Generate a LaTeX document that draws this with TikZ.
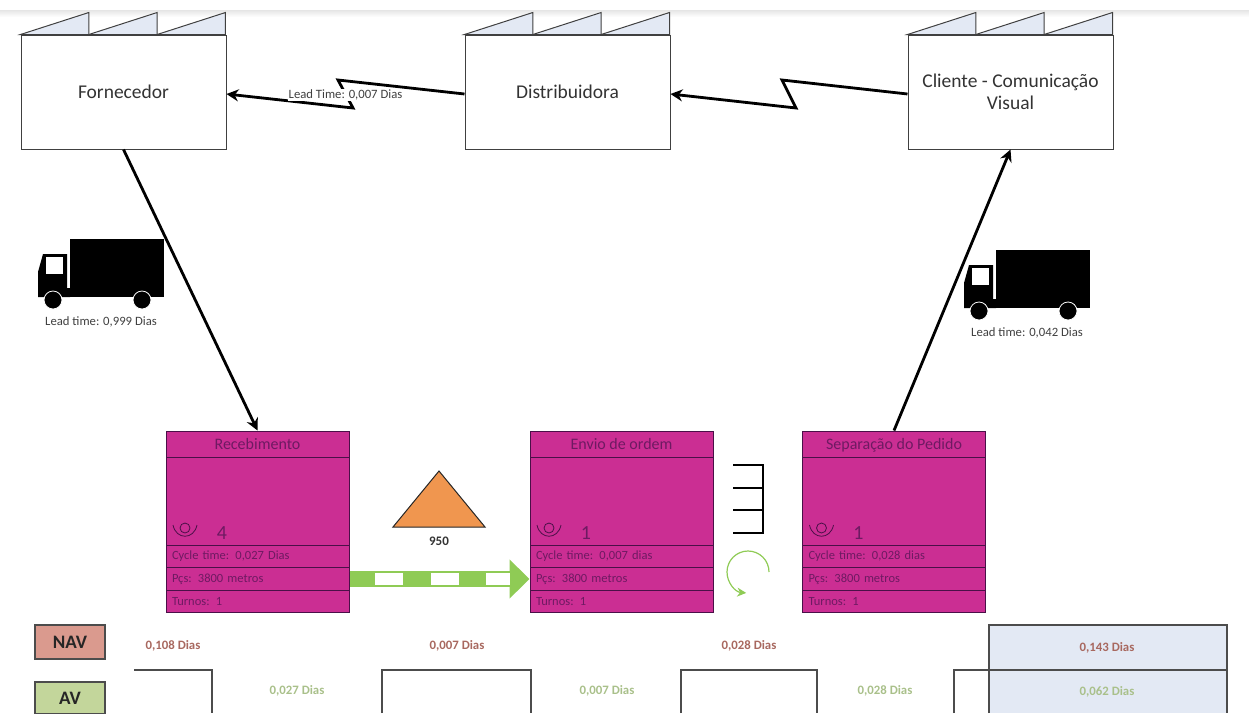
\documentclass[tikz,border=0pt]{standalone}
\usepackage{fontspec}
\setmainfont{Carlito}
\usetikzlibrary{arrows.meta, positioning, calc}

\definecolor{roofblue}{HTML}{E3E9F4}
\definecolor{processpink}{HTML}{CB2E93}
\definecolor{processline}{HTML}{4A1048}
\definecolor{processtext}{HTML}{6E1A62}
\definecolor{pushgreen}{HTML}{8FCB55}
\definecolor{navred}{HTML}{DA9A8E}
\definecolor{navtext}{HTML}{A8685F}
\definecolor{avgreen}{HTML}{C3D69B}
\definecolor{avtext}{HTML}{A9C08A}
\definecolor{stockorange}{HTML}{F0964F}

\tikzset{
    factorybox/.style={draw=black!75, line width=1pt, fill=white, minimum width=205pt, minimum height=114pt, align=center, font=\fontsize{19.5}{22}\selectfont, text=black!80},
    roof/.style={draw=black!75, line width=1pt, fill=roofblue},
    flowline/.style={line width=2.8pt, -{Stealth[length=12pt,width=12pt]}},
    leadlabel/.style={font=\fontsize{12.7}{15}\selectfont, text=black!75},
    titlebox/.style={draw=processline, line width=1pt, fill=processpink, minimum width=183pt, minimum height=26pt, inner sep=0pt, text=processtext, text height=12pt, text depth=2pt, font=\fontsize{16}{18}\selectfont},
    mainbox/.style={titlebox, minimum height=88pt},
    rowbox/.style={draw=processline, line width=1pt, fill=processpink, minimum height=22.5pt, inner ysep=0pt, inner xsep=6pt, text width=171pt, align=left, text=processtext, font=\fontsize{12.5}{14}\selectfont},
    daytext/.style={font=\bfseries\fontsize{12.8}{15}\selectfont},
    timebox/.style={draw=black!70, line width=1.2pt, fill=white},
    keybox/.style={draw=black!70, line width=1.2pt, minimum width=70pt, inner sep=0pt, font=\bfseries\fontsize{19}{22}\selectfont, text=black!85}
}

% factory roof over a named box
\newcommand{\factoryroof}[1]{
    \foreach \i in {0,1,2} {
        \draw[roof] ($(#1.north west)+({\i*68.33},0)$) -- ++(68.33,-22) -- ++(0,22) -- cycle;
    }
}

% truck, shifted from the left one
\newcommand{\truck}[2]{
    \begin{scope}[shift={(#1,#2)}]
        \fill (70,239) rectangle (164,297);
        \fill (38,297) -- (38,272) -- (43,254) -- (67,254) -- (67,288) -- (70,288) -- (70,297) -- cycle;
        \fill[white] (46,257) rectangle (63,274);
        \fill[white] (67.5,254) rectangle (69.5,288);
        \filldraw[draw=white, line width=0.8pt] (53,300) circle (9);
        \filldraw[draw=white, line width=0.8pt] (142,300) circle (9);
    \end{scope}
}

% process box: name, left edge, title, operators, cycle time
\newcommand{\processbox}[5]{
    \node[mainbox] (#1main) at ({#2+91.5},501) {};
    \node[titlebox] (#1) at ({#2+91.5},444) {#3};
    \node[rowbox] (#1tempo) at ({#2+91.5},556.5) {#5};
    \node[rowbox] (#1pecas) at ({#2+91.5},579) {Pçs: 3800 metros};
    \node[rowbox] (#1turnos) at ({#2+91.5},601.5) {Turnos: 1};
    % operator
    \draw[processline, line width=0.8pt] ({#2+19},528) circle (5);
    \draw[processline, line width=0.8pt] ({#2+7},525) .. controls ({#2+10},540) and ({#2+28},540) .. ({#2+31},525);
    \node[text=processtext, font=\fontsize{20}{22}\selectfont] (#1operadores) at ({#2+56},533) {#4};
}

\begin{document}
\begin{tikzpicture}[x=1pt, y=-1pt]
    \useasboundingbox (0,0) rectangle (1249,713);

    % Top edge of the page
    \shade[top color=black!10, bottom color=white] (0,10) rectangle (1249,17);

    % Factories
    \node[factorybox] (fornecedor) at (123.5,92) {Fornecedor};
    \node[factorybox] (distribuidora) at (567.5,92) {Distribuidora};
    \node[factorybox] (cliente) at (1010.5,92) {Cliente - Comunicação\\Visual};
    \factoryroof{fornecedor}
    \factoryroof{distribuidora}
    \factoryroof{cliente}

    % Processes
    \processbox{recebimento}{166}{Recebimento}{4}{Cycle time: 0,027 Dias}
    \processbox{envio}{530}{Envio de ordem}{1}{Cycle time: 0,007 dias}
    \processbox{separacao}{802.5}{Separação do Pedido}{1}{Cycle time: 0,028 dias}

    % Information flow
    \draw[flowline] ([yshift=-2pt]distribuidora.west) -- (338,80) -- (353,108) -- ([yshift=-2pt]fornecedor.east);
    \node[leadlabel, fill=white, inner sep=0.5pt] (leadfornecedor) at (345.5,95) {Lead Time: 0,007 Dias};
    \draw[flowline] ([yshift=-2pt]cliente.west) -- (782,80) -- (796,108) -- ([yshift=-2pt]distribuidora.east);

    % Transport
    \draw[flowline] (fornecedor.south) -- (recebimento.north);
    \draw[flowline] (separacao.north) -- (cliente.south);
    \truck{0}{0}
    \truck{926}{11}
    \node[leadlabel] (leadcaminhao) at (101,322) {Lead time: 0,999 Dias};
    \node[leadlabel] (leadcliente) at (1027,333) {Lead time: 0,042 Dias};

    % Stock
    \draw[black!85, line width=1pt, fill=stockorange] (439,471) -- (485,527) -- (393,527) -- cycle;
    \node[font=\bfseries\fontsize{13}{15}\selectfont, text=black!80] (estoque) at (439,541) {950};

    % Push arrow
    \draw[pushgreen, line width=16.5pt, -{Triangle[length=20pt,width=38pt]}] (recebimentopecas.east) -- (enviopecas.west);
    \foreach \x/\w in {375/28, 430.5/28, 486/24} {
        \fill[white] (\x,573) rectangle ++(\w,12);
    }

    % Supermarket
    \draw[black, line width=1.2pt] (733,465) -- (763,465) -- (763,533) -- (733,533);
    \foreach \y in {488, 510} {
        \draw[black, line width=1.2pt] (733,\y) -- (763,\y);
    }

    % Cycle arrow
    \draw[pushgreen, line width=1.2pt, -{Stealth[length=9pt,width=9pt]}] (769,572) arc[start angle=0, end angle=265, radius=21pt];

    % Timeline
    \node[keybox, fill=navred, minimum height=34pt] (nav) at (70,642) {NAV};
    \node[keybox, fill=avgreen, minimum height=32pt] (av) at (70,698) {AV};
    \draw[timebox] (134,670) -- (212,670) -- (212,713);
    \draw[timebox] (382,713) -- (382,670) -- (531,670) -- (531,713);
    \draw[timebox] (681,713) -- (681,670) -- (817,670) -- (817,713);
    \draw[timebox] (954,713) -- (954,670) -- (989,670);
    \draw[timebox, fill=roofblue] (989,625) rectangle (1227,670);
    \draw[timebox, fill=roofblue] (989,713) -- (989,670) -- (1227,670) -- (1227,713);
    \node[daytext, text=navtext] (navum) at (173,646) {0,108 Dias};
    \node[daytext, text=navtext] (navdois) at (457,646) {0,007 Dias};
    \node[daytext, text=navtext] (navtres) at (749,646) {0,028 Dias};
    \node[daytext, text=navtext] (navtotal) at (1107,648) {0,143 Dias};
    \node[daytext, text=avtext] (avum) at (297,691) {0,027 Dias};
    \node[daytext, text=avtext] (avdois) at (607,691) {0,007 Dias};
    \node[daytext, text=avtext] (avtres) at (885,691) {0,028 Dias};
    \node[daytext, text=avtext] (avtotal) at (1107,692) {0,062 Dias};
\end{tikzpicture}
\end{document}
